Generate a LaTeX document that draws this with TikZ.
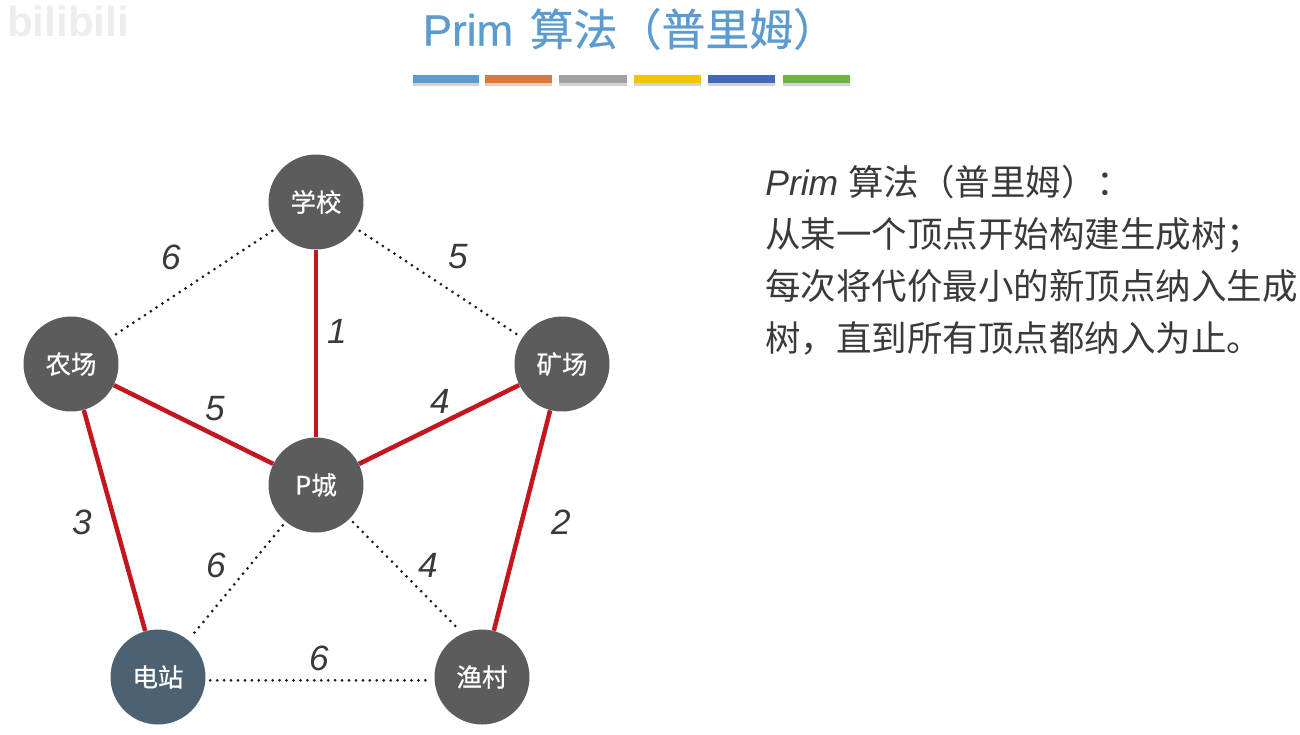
\documentclass[tikz,border=0pt]{standalone}
\usepackage{fontspec}
\usepackage{xcolor}
\usetikzlibrary{shadows}
\setmainfont{Liberation Sans}
\newfontfamily\cjk{Noto Sans CJK SC}
\newfontfamily\cjkmedium[FakeBold=0.5]{Noto Sans CJK SC}
\newfontfamily\latinmedium[FakeBold=0.5]{Liberation Sans}
\definecolor{titleblue}{HTML}{5B9BD0}
\definecolor{nodegray}{HTML}{5C5C5C}
\definecolor{stationblue}{HTML}{4C6273}
\definecolor{treered}{HTML}{C4161F}
\definecolor{bodytext}{HTML}{3A3A3A}
\begin{document}
\begin{tikzpicture}[x=0.02cm,y=-0.02cm]
			\useasboundingbox (0,0) rectangle (1300,734);
			\node (logo) at (68,21) {\fontsize{24pt}{24pt}\selectfont\bfseries\textcolor{black!7}{bilibili}};
			\node (title) at (630,29) {\fontsize{25pt}{25pt}\selectfont\textcolor{titleblue}{\latinmedium Prim\hspace{0.1em} {\cjkmedium 算法（普里姆）}}};
			\begin{scope}[every node/.style={minimum height=0.17cm,inner sep=0,drop shadow={shadow xshift=0cm,shadow yshift=-0.06cm,opacity=0.35}}]
				\node [fill=titleblue,minimum width=1.32cm] (bar1) at (446,79) {};
				\node [fill={rgb,255:red,224;green,118;blue,56},minimum width=1.34cm] (bar2) at (518.5,79) {};
				\node [fill=black!37,minimum width=1.36cm] (bar3) at (593,79) {};
				\node [fill={rgb,255:red,245;green,196;blue,0},minimum width=1.34cm] (bar4) at (667.5,79) {};
				\node [fill={rgb,255:red,68;green,104;blue,184},minimum width=1.34cm] (bar5) at (741.5,79) {};
				\node [fill={rgb,255:red,109;green,179;blue,63},minimum width=1.34cm] (bar6) at (816.5,79) {};
			\end{scope}
			\begin{scope}[every node/.style={circle,fill=nodegray,text=white,minimum size=1.9cm,inner sep=0,font=\fontsize{14.5pt}{14.5pt}\selectfont\cjkmedium}]
				\node (S) at (316,202) {学校};
				\node (F) at (71,364) {农场};
				\node (M) at (562,364) {矿场};
				\node (P) at (316,485) {P城};
				\node [fill=stationblue] (D) at (158,677) {电站};
				\node (V) at (482,677) {渔村};
			\end{scope}
			\begin{scope}[every edge/.style={draw=treered,line width=0.09cm}]
				\path (S) edge (P);
				\path (F) edge (P);
				\path (M) edge (P);
				\path (F) edge (D);
				\path (M) edge (V);
			\end{scope}
			\begin{scope}[every edge/.style={draw=black!90,line width=0.06cm,line cap=round,dash pattern=on 0pt off 3.95pt,shorten >=0.09cm,shorten <=0.09cm}]
				\path (S) edge (F);
				\path (S) edge (M);
				\path (P) edge (D);
				\path (P.-45) edge (V.114);
				\path (D.-4) edge (V.-176);
			\end{scope}
			\begin{scope}[every node/.style={font=\fontsize{20pt}{20pt}\selectfont\itshape,text=bodytext}]
				\node (w1) at (171,257) {6};
				\node (w2) at (458,257) {5};
				\node (w3) at (337,331) {1};
				\node (w4) at (215,409) {5};
				\node (w5) at (440,401) {4};
				\node (w6) at (82,522) {3};
				\node (w7) at (561,522) {2};
				\node (w8) at (216,565) {6};
				\node (w9) at (428,565) {4};
				\node (w10) at (319,658) {6};
			\end{scope}
			\node [anchor=north west,align=left,inner sep=0,text=bodytext,font=\fontsize{20.2pt}{29.5pt}\selectfont] (rule) at (765,165) {\textit{Prim} {\cjk 算法（普里姆）：}\\
				{\cjk 从某一个顶点开始构建生成树；}\\
				{\cjk 每次将代价最小的新顶点纳入生成}\\
				{\cjk 树，直到所有顶点都纳入为止。}};
		\end{tikzpicture}
\end{document}
